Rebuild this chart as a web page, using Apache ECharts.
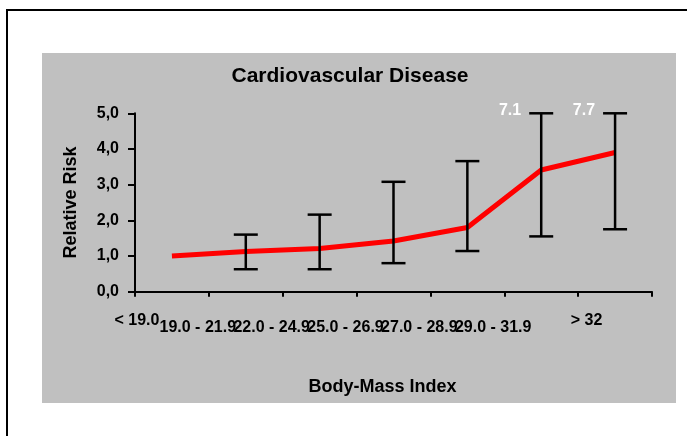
<!DOCTYPE html>
<html>
<head>
<meta charset="utf-8">
<script src="https://cdn.jsdelivr.net/npm/echarts@6/dist/echarts.min.js"></script>
<style>
  html, body { margin: 0; padding: 0; background: #ffffff; }
  #chart { width: 687px; height: 436px; }
</style>
</head>
<body>
<div id="chart"></div>
<script>
// ---- data ----
const categories = ['< 19.0', '19.0 - 21.9', '22.0 - 24.9', '25.0 - 26.9', '27.0 - 28.9', '29.0 - 31.9', '> 32'];
const relativeRisk = [1.0, 1.13, 1.21, 1.42, 1.80, 3.41, 3.90];
const ciLow  = [null, 0.63, 0.63, 0.80, 1.14, 1.55, 1.75];
const ciHigh = [null, 1.60, 2.16, 3.08, 3.66, 5.0, 5.0];
const ciHighLabels = ['', '', '', '', '', '7.1', '7.7'];
const yTicks = [0, 1, 2, 3, 4, 5];

const FONT = "'Liberation Sans', Arial, sans-serif";

const errorData = categories.map((c, i) => [i, ciLow[i], ciHigh[i], ciHighLabels[i]]);

const chart = echarts.init(document.getElementById('chart'), null, { renderer: 'canvas' });

const option = {
  backgroundColor: '#ffffff',
  animation: false,
  graphic: {
    elements: [
      {
        type: 'rect', z: -20, silent: true,
        shape: { x: 7, y: 10, width: 700, height: 450 },
        style: { fill: '#ffffff', stroke: '#000000', lineWidth: 2 }
      },
      {
        type: 'rect', z: -19, silent: true,
        shape: { x: 42, y: 53, width: 634, height: 350 },
        style: { fill: '#c0c0c0' }
      }
    ]
  },
  title: {
    text: 'Cardiovascular Disease',
    left: 345,
    top: 61,
    textAlign: 'center',
    textStyle: { fontFamily: FONT, fontWeight: 'bold', fontSize: 21, color: '#000000' }
  },
  grid: { left: 135, right: 35, top: 113.3, bottom: 144.3, containLabel: false },
  xAxis: {
    type: 'category',
    data: categories,
    boundaryGap: true,
    name: 'Body-Mass Index',
    nameLocation: 'middle',
    nameGap: 86,
    nameTextStyle: { fontFamily: FONT, fontWeight: 'bold', fontSize: 18, color: '#000000', padding: [0, 22, 0, 0] },
    axisLine: { lineStyle: { color: '#000000', width: 2 } },
    axisTick: { show: true, length: 5, alignWithLabel: false, lineStyle: { color: '#000000', width: 2 } },
    splitLine: { show: false },
    axisLabel: {
      interval: 0,
      hideOverlap: false,
      margin: 20,
      fontFamily: FONT, fontWeight: 'bold', fontSize: 16, color: '#000000',
      formatter: function (v, i) {
        if (i === 0) return '{f|' + v + '}';
        if (i === categories.length - 1) return '{l|' + v + '}';
        return '{m|' + v + '}';
      },
      rich: {
        f: { fontFamily: FONT, fontWeight: 'bold', fontSize: 16, color: '#000000', lineHeight: 18, padding: [0, 70, 0, 0] },
        m: { fontFamily: FONT, fontWeight: 'bold', fontSize: 16, color: '#000000', lineHeight: 18, padding: [14, 96, 0, 0] },
        l: { fontFamily: FONT, fontWeight: 'bold', fontSize: 16, color: '#000000', lineHeight: 18, padding: [0, 57, 0, 0] }
      }
    }
  },
  yAxis: {
    type: 'value',
    min: yTicks[0],
    max: yTicks[yTicks.length - 1],
    interval: 1,
    name: 'Relative Risk',
    nameLocation: 'middle',
    nameGap: 55,
    nameTextStyle: { fontFamily: FONT, fontWeight: 'bold', fontSize: 18, color: '#000000' },
    axisLine: { show: true, lineStyle: { color: '#000000', width: 2 } },
    axisTick: { show: true, length: 7, lineStyle: { color: '#000000', width: 2 } },
    splitLine: { show: false },
    axisLabel: {
      margin: 16,
      fontFamily: FONT, fontWeight: 'bold', fontSize: 16, color: '#000000',
      formatter: function (v) { return v.toFixed(1).replace('.', ','); }
    }
  },
  series: [
    {
      type: 'line',
      data: relativeRisk,
      showSymbol: false,
      symbol: 'none',
      smooth: false,
      lineStyle: { color: '#ff0000', width: 5 },
      z: 3
    },
    {
      type: 'custom',
      data: errorData,
      z: 4,
      renderItem: function (params, api) {
        const low = api.value(1);
        const high = api.value(2);
        if (low == null || isNaN(low)) return null;
        const pLow = api.coord([api.value(0), low]);
        const pHigh = api.coord([api.value(0), high]);
        const hw = 12;
        const style = { stroke: '#000000', lineWidth: 2.5 };
        const children = [
          { type: 'line', shape: { x1: pLow[0], y1: pLow[1], x2: pHigh[0], y2: pHigh[1] }, style: style },
          { type: 'line', shape: { x1: pLow[0] - hw, y1: pLow[1], x2: pLow[0] + hw, y2: pLow[1] }, style: style },
          { type: 'line', shape: { x1: pHigh[0] - hw, y1: pHigh[1], x2: pHigh[0] + hw, y2: pHigh[1] }, style: style }
        ];
        const lbl = ciHighLabels[params.dataIndex];
        if (lbl) {
          children.push({
            type: 'text',
            style: {
              text: lbl, x: pHigh[0] - 20, y: pHigh[1] - 3,
              align: 'right', verticalAlign: 'middle',
              fill: '#ffffff', font: 'bold 16px ' + FONT
            }
          });
        }
        return { type: 'group', children: children };
      }
    }
  ]
};

chart.setOption(option);
</script>
</body>
</html>
